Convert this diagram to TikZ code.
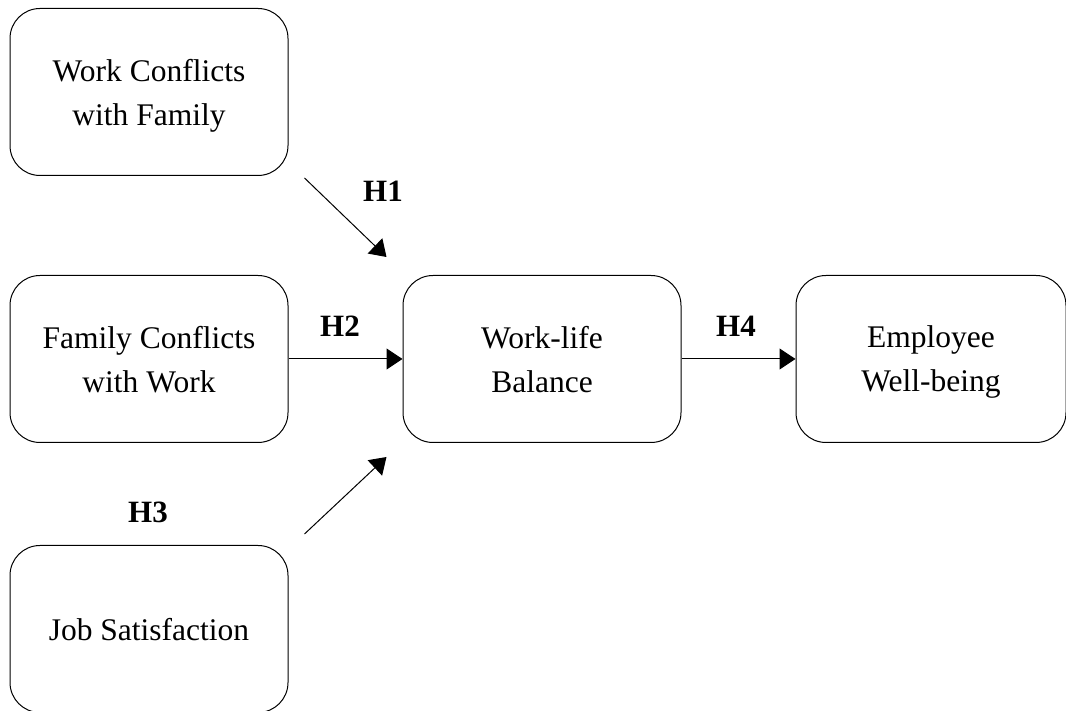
\documentclass[tikz,border=0pt]{standalone}
\usepackage{fontspec}
\setmainfont{Liberation Serif}
\usetikzlibrary{arrows.meta,positioning}

\begin{document}
\begin{tikzpicture}[
  x=1pt, y=1pt,
  every node/.style={font=\fontsize{31.5}{44}\selectfont},
  varbox/.style={draw, line width=1pt, rounded corners=30pt, text depth=0pt,
                 minimum width=278pt, minimum height=167pt, align=center},
  hyp/.style={font=\fontsize{31}{36}\selectfont\bfseries},
  arr/.style={-{Triangle[length=16pt,width=21pt]}, line width=1pt},
]
%% ---- frame ----
\useasboundingbox (0,0) rectangle (1066,711);

%% ---- column 1: antecedents ----
\node[varbox] (wcf) at (149,619) {Work Conflicts\\with Family};
\node[varbox, below=99pt of wcf]  (fcw)  {Family Conflicts\\with Work};
\node[varbox, below=102pt of fcw] (jsat) {Job Satisfaction};

%% ---- mediator and outcome ----
\node[varbox, right=114pt of fcw] (wlb) {Work-life\\Balance};
\node[varbox, minimum width=270pt, right=114pt of wlb] (ewb) {Employee\\Well-being};

%% ---- arrows ----
\draw[arr] ([xshift=16pt,yshift=-2pt]wcf.south east) -- ([xshift=-16pt,yshift=18pt]wlb.north west);
\draw[arr] (fcw) -- (wlb);
\draw[arr] ([xshift=16pt,yshift=11pt]jsat.north east) -- ([xshift=-16pt,yshift=-14pt]wlb.south west);
\draw[arr] (wlb) -- (ewb);

%% ---- hypothesis labels ----
\node[hyp] (h1) at (383,520) {H1};
\node[hyp] (h2) at (340,385) {H2};
\node[hyp] (h3) at (148,199) {H3};
\node[hyp] (h4) at (736,385) {H4};
\end{tikzpicture}
\end{document}
